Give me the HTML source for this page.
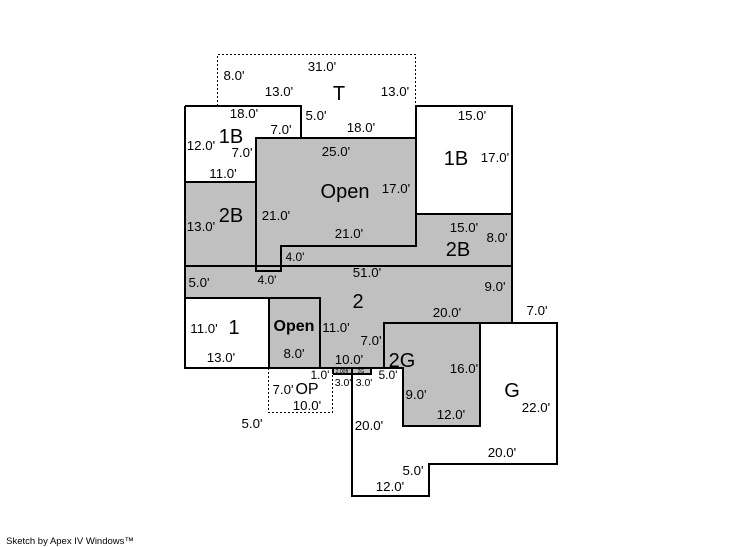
<!DOCTYPE html>
<html><head><meta charset="utf-8"><style>
html,body{margin:0;padding:0;background:#fff}
svg{display:block}
text{font-family:"Liberation Sans",sans-serif;font-size:13.3px;fill:#000;text-anchor:middle}
.b{font-size:20px}
.o{font-size:16px;font-weight:bold}
</style></head><body>
<svg width="746" height="547" viewBox="0 0 746 547" xmlns="http://www.w3.org/2000/svg">
<rect x="0" y="0" width="746" height="547" fill="#fff"/>
<!-- gray fills -->
<path d="M185 182H256V138H416V214H512V323H384V368H320V298H185Z" fill="#c0c0c0"/>
<rect x="269" y="298" width="51" height="70" fill="#c0c0c0"/>
<path d="M384 323H480V426H403V368H384Z" fill="#c0c0c0"/>
<rect x="320" y="298" width="64" height="70" fill="#c0c0c0"/>
<rect x="333" y="368" width="38" height="6" fill="#c0c0c0"/>
<!-- dashed -->
<g fill="none" stroke="#000" stroke-width="1" stroke-dasharray="2,2">
<path d="M217.5 106V54.5H415.5V106"/>
<path d="M268.5 368V412.5H332.5V374"/>
</g>
<!-- solid -->
<g fill="none" stroke="#000" stroke-width="2">
<path d="M185 106H301V138"/>
<path d="M185 106V368H403V426H480V323"/>
<path d="M416 214V106H512V323"/>
<path d="M256 138H416V246H281V271H256Z"/>
<path d="M185 182H256"/>
<path d="M416 214H512"/>
<path d="M185 266H512"/>
<path d="M185 298H320V368"/>
<path d="M269 298V368"/>
<path d="M384 368V323H557V464H429V496H352V368"/>
<path d="M333 374H371V368"/>
<path d="M333 368V374"/>
</g>
<path d="M352 368V374" stroke="#000" stroke-width="1"/>
<!-- big labels -->
<text class="b" x="339" y="100">T</text>
<text class="b" x="231" y="143">1B</text>
<text class="b" x="456" y="165">1B</text>
<text class="b" x="345" y="198">Open</text>
<text class="b" x="231" y="222">2B</text>
<text class="b" x="458" y="256">2B</text>
<text class="b" x="358" y="308">2</text>
<text class="b" x="234" y="334">1</text>
<text class="o" x="294" y="331">Open</text>
<text class="b" x="402" y="367">2G</text>
<text class="b" x="512" y="397">G</text>
<text x="307" y="394" style="font-size:16px">OP</text>
<!-- dims -->
<text x="322" y="71">31.0'</text>
<text x="234" y="80">8.0'</text>
<text x="279" y="96">13.0'</text>
<text x="395" y="96">13.0'</text>
<text x="244" y="118">18.0'</text>
<text x="316" y="120">5.0'</text>
<text x="361" y="132">18.0'</text>
<text x="281" y="134">7.0'</text>
<text x="472" y="120">15.0'</text>
<text x="201" y="150">12.0'</text>
<text x="242" y="157">7.0'</text>
<text x="336" y="156">25.0'</text>
<text x="495" y="162">17.0'</text>
<text x="396" y="193">17.0'</text>
<text x="223" y="178">11.0'</text>
<text x="276" y="220">21.0'</text>
<text x="201" y="231">13.0'</text>
<text x="349" y="238">21.0'</text>
<text x="464" y="232">15.0'</text>
<text x="497" y="242">8.0'</text>
<text x="295" y="261" style="font-size:12px">4.0'</text>
<text x="267" y="284" style="font-size:12px">4.0'</text>
<text x="367" y="277">51.0'</text>
<text x="199" y="287">5.0'</text>
<text x="495" y="291">9.0'</text>
<text x="447" y="317">20.0'</text>
<text x="537" y="315">7.0'</text>
<text x="204" y="333">11.0'</text>
<text x="336" y="332">11.0'</text>
<text x="371" y="345">7.0'</text>
<text x="294" y="358">8.0'</text>
<text x="349" y="364">10.0'</text>
<text x="221" y="362">13.0'</text>
<text x="464" y="373">16.0'</text>
<text x="320" y="379" style="font-size:12px">1.0'</text>
<text x="343" y="386" style="font-size:10.5px">3.0'</text>
<text x="364" y="386" style="font-size:10.5px">3.0'</text>
<text x="388" y="379" style="font-size:12px">5.0'</text>
<text x="283" y="394">7.0'</text>
<text x="416" y="399">9.0'</text>
<text x="307" y="410">10.0'</text>
<text x="536" y="412">22.0'</text>
<text x="451" y="419">12.0'</text>
<text x="252" y="428">5.0'</text>
<text x="369" y="430">20.0'</text>
<text x="502" y="457">20.0'</text>
<text x="413" y="475">5.0'</text>
<text x="390" y="491">12.0'</text>
<text x="342" y="373" style="font-size:5px">2.00ft</text>
<text x="361" y="373" style="font-size:5px">2G</text>
<text x="70" y="544" style="font-size:9.5px">Sketch by Apex IV Windows™</text>
</svg>
</body></html>
